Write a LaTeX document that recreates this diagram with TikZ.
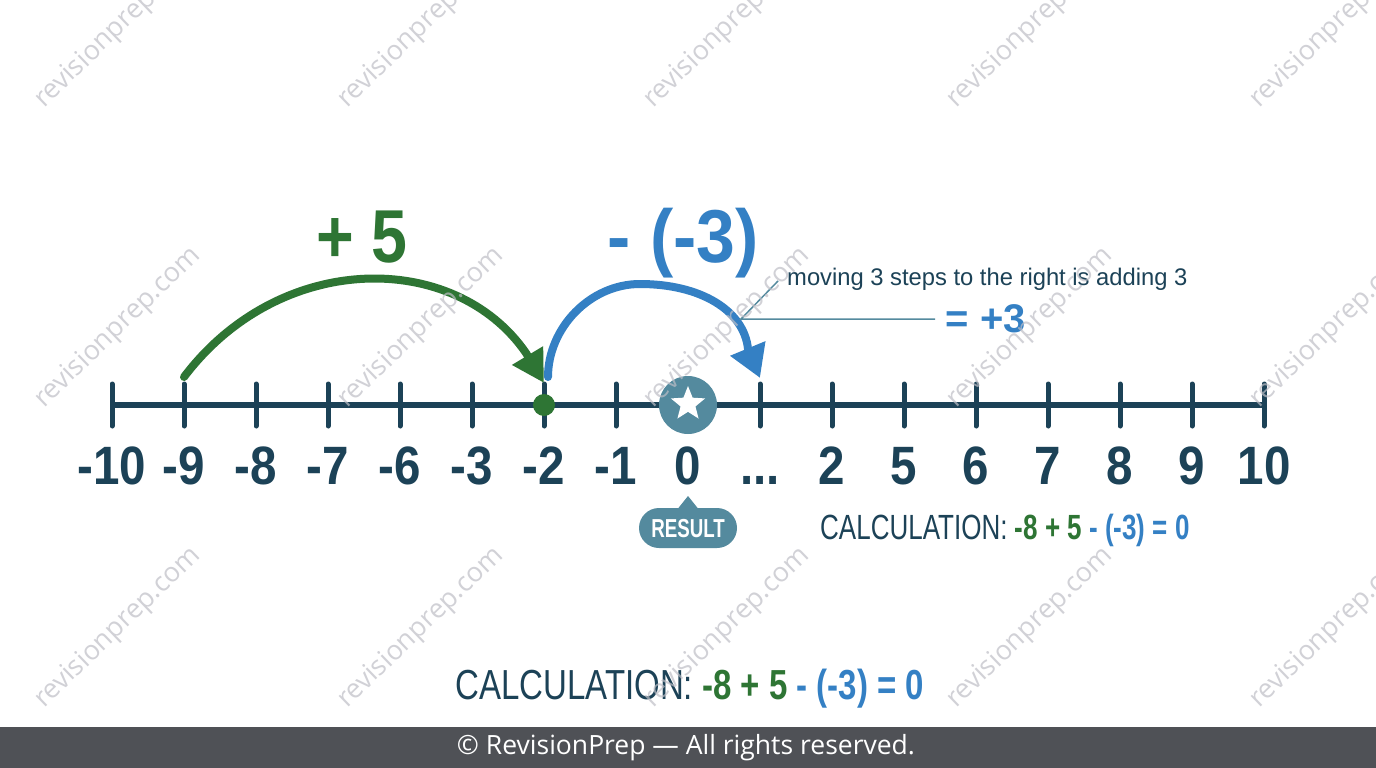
\documentclass[tikz,border=0pt]{standalone}
\usepackage{fontspec}
\setmainfont{Liberation Sans}
\newfontfamily\footfont{Open Sans}
\usetikzlibrary{arrows.meta,shapes.geometric,calc}
\definecolor{navy}{RGB}{28,66,87}
\definecolor{grn}{RGB}{46,117,52}
\definecolor{blu}{RGB}{52,128,196}
\definecolor{tealc}{RGB}{84,138,158}
\definecolor{footbg}{RGB}{79,81,86}
\definecolor{wmc}{RGB}{190,190,198}
\newcommand{\fs}[1]{\fontsize{#1}{#1}\selectfont}
\newcommand{\threedots}{...}
\begin{document}
\begin{tikzpicture}[x=1pt,y=-1pt,
  tickline/.style={navy,line width=5pt,line cap=round},
  numlab/.style={text=navy,anchor=base,inner sep=0pt,font=\bfseries\fs{54}},
  jumpgreen/.style={grn,line width=8pt,line cap=round,-{Triangle[length=32pt,width=34pt]}},
  jumpblue/.style={blu,line width=8pt,line cap=round,-{Triangle[length=32pt,width=36pt]}},
  annline/.style={tealc,line width=1.5pt},
  wmark/.style={text=wmc,opacity=0.7,rotate=44,font=\footfont\fs{27}}]
\useasboundingbox (0,0) rectangle (1376,768);
\fill[white] (0,0) rectangle (1376,768);
% footer
\fill[footbg] (0,727) rectangle (1376,768);
\node[text=white,font=\footfont\fs{26.5}] (foot) at (686,748) {© RevisionPrep — All rights reserved.};
% number line
\coordinate (lineL) at (112,405);
\coordinate (lineR) at (1264,405);
\draw[navy,line width=6pt] (lineL) -- (lineR);
\foreach \i/\lab in {0/-10,1/-9,2/-8,3/-7,4/-6,5/-3,6/-2,7/-1,8/0,9/\threedots,10/2,11/5,12/6,13/7,14/8,15/9,16/10}{
  \coordinate (t\i) at ({112+72*\i},405);
  \draw[tickline] ({112+72*\i},384) -- ({112+72*\i},426);
  \node[numlab] (l\i) at ({112+72*\i},484) {\scalebox{0.88}[1]{\lab}};
}
% green dot and result star
\node[circle,fill=grn,minimum size=22pt,inner sep=0pt] (dot) at (t6) {};
\node[circle,fill=tealc,minimum size=58pt,inner sep=0pt] (res) at (t8) {};
\node[star,star points=5,star point ratio=2.3,fill=white,minimum size=36pt,inner sep=0pt] (st) at ($(res)+(0,-1)$) {};
% jumps
\coordinate (gstart) at (184,377);
\coordinate (gbase) at (526,353);
\coordinate (gtip) at (544,383);
\draw[jumpgreen] (gstart) .. controls (280,250) and (455,250) .. (gbase) -- (gtip);
\coordinate (bstart) at (548,377);
\coordinate (btop) at (640,284);
\coordinate (bbase) at (748,349);
\coordinate (btip) at (760,378);
\draw[jumpblue] (bstart) .. controls (548,328) and (590,284) .. (btop) .. controls (700,284) and (744,310) .. (bbase) -- (btip);
\node[text=grn,anchor=base,font=\bfseries\fs{75}] (plus5) at (362,262) {\scalebox{0.86}[1]{+ 5}};
\node[text=blu,anchor=base,font=\bfseries\fs{75}] (minus3) at (683,262) {\scalebox{0.93}[1]{- (-3)}};
% annotation
\coordinate (ann) at (741,319);
\node[text=navy,anchor=base west,inner sep=0pt,font=\fs{24}] (note) at (787,285) {\scalebox{0.99}[1]{moving 3 steps to the right is adding 3}};
\node[text=blu,anchor=base,inner sep=0pt,font=\bfseries\fs{40}] (eq3) at (986,332) {= +3};
\coordinate (annT) at (778,281);
\coordinate (annR) at (935,319);
\draw[annline] (annT) -- (ann) -- (annR);
% result badge
\fill[tealc] (676,511) -- (688,496) -- (700,511) -- cycle;
\node[fill=tealc,rounded corners=20pt,minimum width=98pt,minimum height=40pt,inner sep=0pt] (badge) at (688,528) {};
\node[text=white,anchor=base,inner sep=0pt,font=\bfseries\fs{26}] (badgetxt) at (688,537) {\scalebox{0.72}[1]{RESULT}};
% calculations
\node[anchor=base west,inner sep=0pt,font=\fs{35}] (calc1) at (820,539) {\scalebox{0.743}[1]{\textcolor{navy}{CALCULATION: }\textcolor{grn}{\bfseries -8 + 5 }\textcolor{blu}{\bfseries - (-3) = 0}}};
\node[anchor=base west,inner sep=0pt,font=\fs{42}] (calc2) at (455,699) {\scalebox{0.786}[1]{\textcolor{navy}{CALCULATION: }\textcolor{grn}{\bfseries -8 + 5 }\textcolor{blu}{\bfseries - (-3) = 0}}};
% watermarks
\foreach \r/\yy in {0/28,1/328,2/628}{
  \foreach \c/\xx in {0/118,1/421,2/727,3/1030,4/1333}{
    \node[wmark] (wm\r\c) at (\xx,\yy) {revisionprep.com};
  }
}
\end{tikzpicture}
\end{document}
